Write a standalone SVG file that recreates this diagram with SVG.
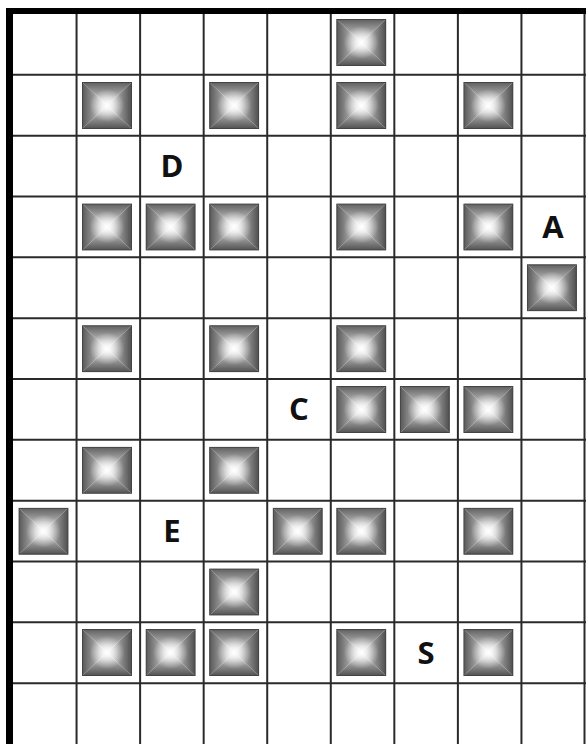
<svg xmlns="http://www.w3.org/2000/svg" xmlns:xlink="http://www.w3.org/1999/xlink" width="586" height="744" viewBox="0 0 586 744">
<style>
.grid line{stroke:#2a2a2a;stroke-width:2}
.lbl{font-family:"Open Sans","Noto Sans","Liberation Sans",sans-serif;font-weight:bold;font-size:31px;fill:#111;text-anchor:middle}
</style>
<defs>
<linearGradient id="gT" x1="0" y1="0" x2="0" y2="1"><stop offset="0" stop-color="#5e5e5e"/><stop offset="0.55" stop-color="#a8a8a8"/><stop offset="1" stop-color="#f8f8f8"/></linearGradient>
<linearGradient id="gB" x1="0" y1="1" x2="0" y2="0"><stop offset="0" stop-color="#505050"/><stop offset="0.55" stop-color="#a0a0a0"/><stop offset="1" stop-color="#f8f8f8"/></linearGradient>
<linearGradient id="gL" x1="0" y1="0" x2="1" y2="0"><stop offset="0" stop-color="#565656"/><stop offset="0.55" stop-color="#a4a4a4"/><stop offset="1" stop-color="#f8f8f8"/></linearGradient>
<linearGradient id="gR" x1="1" y1="0" x2="0" y2="0"><stop offset="0" stop-color="#4c4c4c"/><stop offset="0.55" stop-color="#9c9c9c"/><stop offset="1" stop-color="#f8f8f8"/></linearGradient>
<radialGradient id="gC" cx="0.5" cy="0.5" r="0.35"><stop offset="0" stop-color="#fff" stop-opacity="0.9"/><stop offset="1" stop-color="#fff" stop-opacity="0"/></radialGradient>
<symbol id="sq" viewBox="0 0 50 46" preserveAspectRatio="none">
<polygon points="0,0 50,0 25,23" fill="url(#gT)"/>
<polygon points="0,46 50,46 25,23" fill="url(#gB)"/>
<polygon points="0,0 0,46 25,23" fill="url(#gL)"/>
<polygon points="50,0 50,46 25,23" fill="url(#gR)"/>
<rect x="0" y="0" width="50" height="46" fill="url(#gC)"/>
<rect x="0.5" y="0.5" width="49" height="45" fill="none" stroke="#444" stroke-width="1"/>
</symbol>
</defs>
<rect width="586" height="744" fill="#fff"/>
<g id="grid" class="grid">
<line x1="76.56" y1="14" x2="76.56" y2="744"/>
<line x1="140.11" y1="14" x2="140.11" y2="744"/>
<line x1="203.67" y1="14" x2="203.67" y2="744"/>
<line x1="267.22" y1="14" x2="267.22" y2="744"/>
<line x1="330.78" y1="14" x2="330.78" y2="744"/>
<line x1="394.33" y1="14" x2="394.33" y2="744"/>
<line x1="457.89" y1="14" x2="457.89" y2="744"/>
<line x1="521.44" y1="14" x2="521.44" y2="744"/>
<line x1="584.5" y1="14" x2="584.5" y2="744"/>
<line x1="13" y1="74.83" x2="586" y2="74.83"/>
<line x1="13" y1="135.67" x2="586" y2="135.67"/>
<line x1="13" y1="196.5" x2="586" y2="196.5"/>
<line x1="13" y1="257.33" x2="586" y2="257.33"/>
<line x1="13" y1="318.17" x2="586" y2="318.17"/>
<line x1="13" y1="379" x2="586" y2="379"/>
<line x1="13" y1="439.83" x2="586" y2="439.83"/>
<line x1="13" y1="500.67" x2="586" y2="500.67"/>
<line x1="13" y1="561.5" x2="586" y2="561.5"/>
<line x1="13" y1="622.33" x2="586" y2="622.33"/>
<line x1="13" y1="683.17" x2="586" y2="683.17"/>
</g>
<g id="border" fill="#000">
<rect x="6" y="8" width="580" height="6"/>
<rect x="6" y="8" width="7" height="736"/>
</g>
<g id="blocks">
<use href="#sq" x="336.3" y="19" width="50" height="47"/>
<use href="#sq" x="82" y="82" width="50" height="47"/>
<use href="#sq" x="209.2" y="82" width="50" height="47"/>
<use href="#sq" x="336.3" y="82" width="50" height="47"/>
<use href="#sq" x="463.4" y="82" width="50" height="47"/>
<use href="#sq" x="82" y="203.5" width="50" height="47"/>
<use href="#sq" x="145.6" y="203.5" width="50" height="47"/>
<use href="#sq" x="209.2" y="203.5" width="50" height="47"/>
<use href="#sq" x="336.3" y="203.5" width="50" height="47"/>
<use href="#sq" x="463.4" y="203.5" width="50" height="47"/>
<use href="#sq" x="526.9" y="264.3" width="50" height="47"/>
<use href="#sq" x="82" y="325.2" width="50" height="47"/>
<use href="#sq" x="209.2" y="325.2" width="50" height="47"/>
<use href="#sq" x="336.3" y="325.2" width="50" height="47"/>
<use href="#sq" x="336.3" y="386" width="50" height="47"/>
<use href="#sq" x="399.8" y="386" width="50" height="47"/>
<use href="#sq" x="463.4" y="386" width="50" height="47"/>
<use href="#sq" x="82" y="446.8" width="50" height="47"/>
<use href="#sq" x="209.2" y="446.8" width="50" height="47"/>
<use href="#sq" x="18.5" y="507.7" width="50" height="47"/>
<use href="#sq" x="272.7" y="507.7" width="50" height="47"/>
<use href="#sq" x="336.3" y="507.7" width="50" height="47"/>
<use href="#sq" x="463.4" y="507.7" width="50" height="47"/>
<use href="#sq" x="209.2" y="568.5" width="50" height="47"/>
<use href="#sq" x="82" y="629" width="50" height="47"/>
<use href="#sq" x="145.6" y="629" width="50" height="47"/>
<use href="#sq" x="209.2" y="629" width="50" height="47"/>
<use href="#sq" x="336.3" y="629" width="50" height="47"/>
<use href="#sq" x="463.4" y="629" width="50" height="47"/>
</g>
<g id="labels">
<text id="D" class="lbl" x="172" y="177">D</text>
<text id="A" class="lbl" x="553" y="238">A</text>
<text id="C" class="lbl" x="299" y="420">C</text>
<text id="E" class="lbl" x="172" y="542">E</text>
<text id="S" class="lbl" x="426" y="664">S</text>
</g>
</svg>
